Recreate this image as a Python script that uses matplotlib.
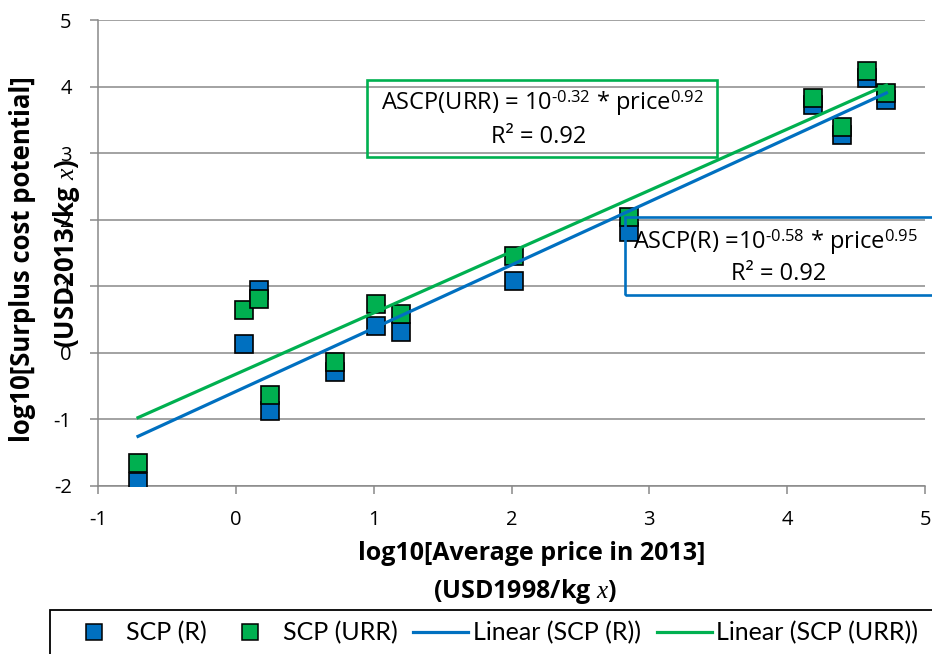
import matplotlib
matplotlib.use("Agg")
import matplotlib.pyplot as plt
import matplotlib.patches as mpatches
from matplotlib.lines import Line2D
import numpy as np

# log10 average price vs log10 surplus cost potential
x_price = [-0.71, 0.06, 0.17, 0.25, 0.72, 1.02, 1.20, 2.02, 2.85, 4.19, 4.40, 4.58, 4.72]
scp_r = [-1.94, 0.14, 0.95, -0.88, -0.29, 0.40, 0.32, 1.08, 1.81, 3.73, 3.28, 4.13, 3.80]
scp_urr = [-1.66, 0.64, 0.81, -0.63, -0.13, 0.74, 0.59, 1.46, 2.04, 3.83, 3.40, 4.23, 3.90]

# trend line coefficients (slope, intercept) as printed on the chart
fit_r = (0.95, -0.58)
fit_urr = (0.92, -0.32)

x_ticks = [-1, 0, 1, 2, 3, 4, 5]
y_ticks = [-2, -1, 0, 1, 2, 3, 4, 5]

BLUE = '#0070C0'
GREEN = '#00B050'
GRID = '#898989'

plt.rcParams['font.family'] = ['Open Sans', 'DejaVu Sans']
plt.rcParams['axes.unicode_minus'] = False
plt.rcParams['mathtext.fontset'] = 'custom'
plt.rcParams['mathtext.rm'] = 'Open Sans'
plt.rcParams['mathtext.it'] = 'Liberation Serif:italic'
plt.rcParams['mathtext.bf'] = 'Open Sans:bold'

fig = plt.figure(figsize=(9.32, 6.54), dpi=100)
ax = fig.add_axes([0.1052, 0.2569, 0.8873, 0.7125])

ax.set_xlim(-1, 5)
ax.set_ylim(-2, 5)
ax.set_xticks(x_ticks)
ax.set_yticks(y_ticks)
ax.yaxis.grid(True, color=GRID, lw=1.1)
ax.set_axisbelow(True)
for s in ['top', 'right']:
    ax.spines[s].set_visible(False)
for s in ['left', 'bottom']:
    ax.spines[s].set_color(GRID)
    ax.spines[s].set_linewidth(1.1)
ax.tick_params(axis='both', direction='out', length=6, width=1.1, color=GRID,
               labelsize=14.5, labelcolor='black')
ax.tick_params(axis='x', pad=11)
ax.tick_params(axis='y', pad=13)

# markers
ax.plot(x_price, scp_r, 's', ms=13, mfc=BLUE, mec='black', mew=1.2, zorder=3)
ax.plot(x_price, scp_urr, 's', ms=13, mfc=GREEN, mec='black', mew=1.2, zorder=4)

# linear trend lines
xl = np.array([min(x_price), max(x_price)])
ax.plot(xl, fit_r[0] * xl + fit_r[1], color=BLUE, lw=2.3, zorder=5)
ax.plot(xl, fit_urr[0] * xl + fit_urr[1], color=GREEN, lw=2.3, zorder=5)

# equation boxes
ax.add_patch(mpatches.Rectangle((0.95, 2.94), 2.54, 1.16, fill=False, ec=GREEN,
                                lw=1.9, zorder=6, clip_on=False))
ax.add_patch(mpatches.Rectangle((2.82, 0.875), 2.6, 1.165, fill=False, ec=BLUE,
                                lw=1.9, zorder=6, clip_on=False))
ax.text(2.225, 3.755, r'ASCP(URR) = 10$^{\text{-0.32}}$ * price$^{\text{0.92}}$',
        ha='center', va='center', fontsize=17, zorder=7)
ax.text(2.2, 3.24, 'R² = 0.92', ha='center', va='center', fontsize=17, zorder=7)
ax.text(2.884, 1.66, r'ASCP(R) =10$^{\text{-0.58}}$ * price$^{\text{0.95}}$',
        ha='left', va='center', fontsize=17, zorder=7, clip_on=False)
ax.text(3.94, 1.18, 'R² = 0.92', ha='center', va='center', fontsize=17, zorder=7)

# axis labels
fig.text(0.571, 0.1544, 'log10[Average price in 2013]', ha='center', va='center',
         fontsize=18, fontweight='bold')
fig.text(0.563, 0.0963, r'(USD1998/kg $x$)', ha='center', va='center',
         fontsize=18, fontweight='bold')
fig.text(0.0241, 0.604, 'log10[Surplus cost potential]', ha='center', va='center',
         rotation=90, fontsize=18.5, fontweight='bold')
fig.text(0.071, 0.612, r'(USD2013/kg $x$)', ha='center', va='center',
         rotation=90, fontsize=18.5, fontweight='bold')

# legend
handles = [
    Line2D([], [], ls='none', marker='s', ms=11, mfc=BLUE, mec='black', mew=1.1),
    Line2D([], [], ls='none', marker='s', ms=11, mfc=GREEN, mec='black', mew=1.1),
    Line2D([], [], color=BLUE, lw=2.3),
    Line2D([], [], color=GREEN, lw=2.3),
]
labels = ['SCP (R)', 'SCP (URR)', 'Linear (SCP (R))', 'Linear (SCP (URR))']
fig.legend(handles, labels, loc='center left', bbox_to_anchor=(54 / 932, 1 - 633 / 654),
           ncol=4, frameon=False, handlelength=2.2, handletextpad=0.2,
           columnspacing=0.62, borderpad=0,
           prop={'family': ['Liberation Sans Narrow', 'Lato'], 'size': 18})
fig.add_artist(mpatches.Rectangle((50 / 932, -0.1), 1.0, 0.1 + 44 / 654,
                                  transform=fig.transFigure, fill=False,
                                  ec='black', lw=1.3))

fig.savefig('out.png', dpi=100)
